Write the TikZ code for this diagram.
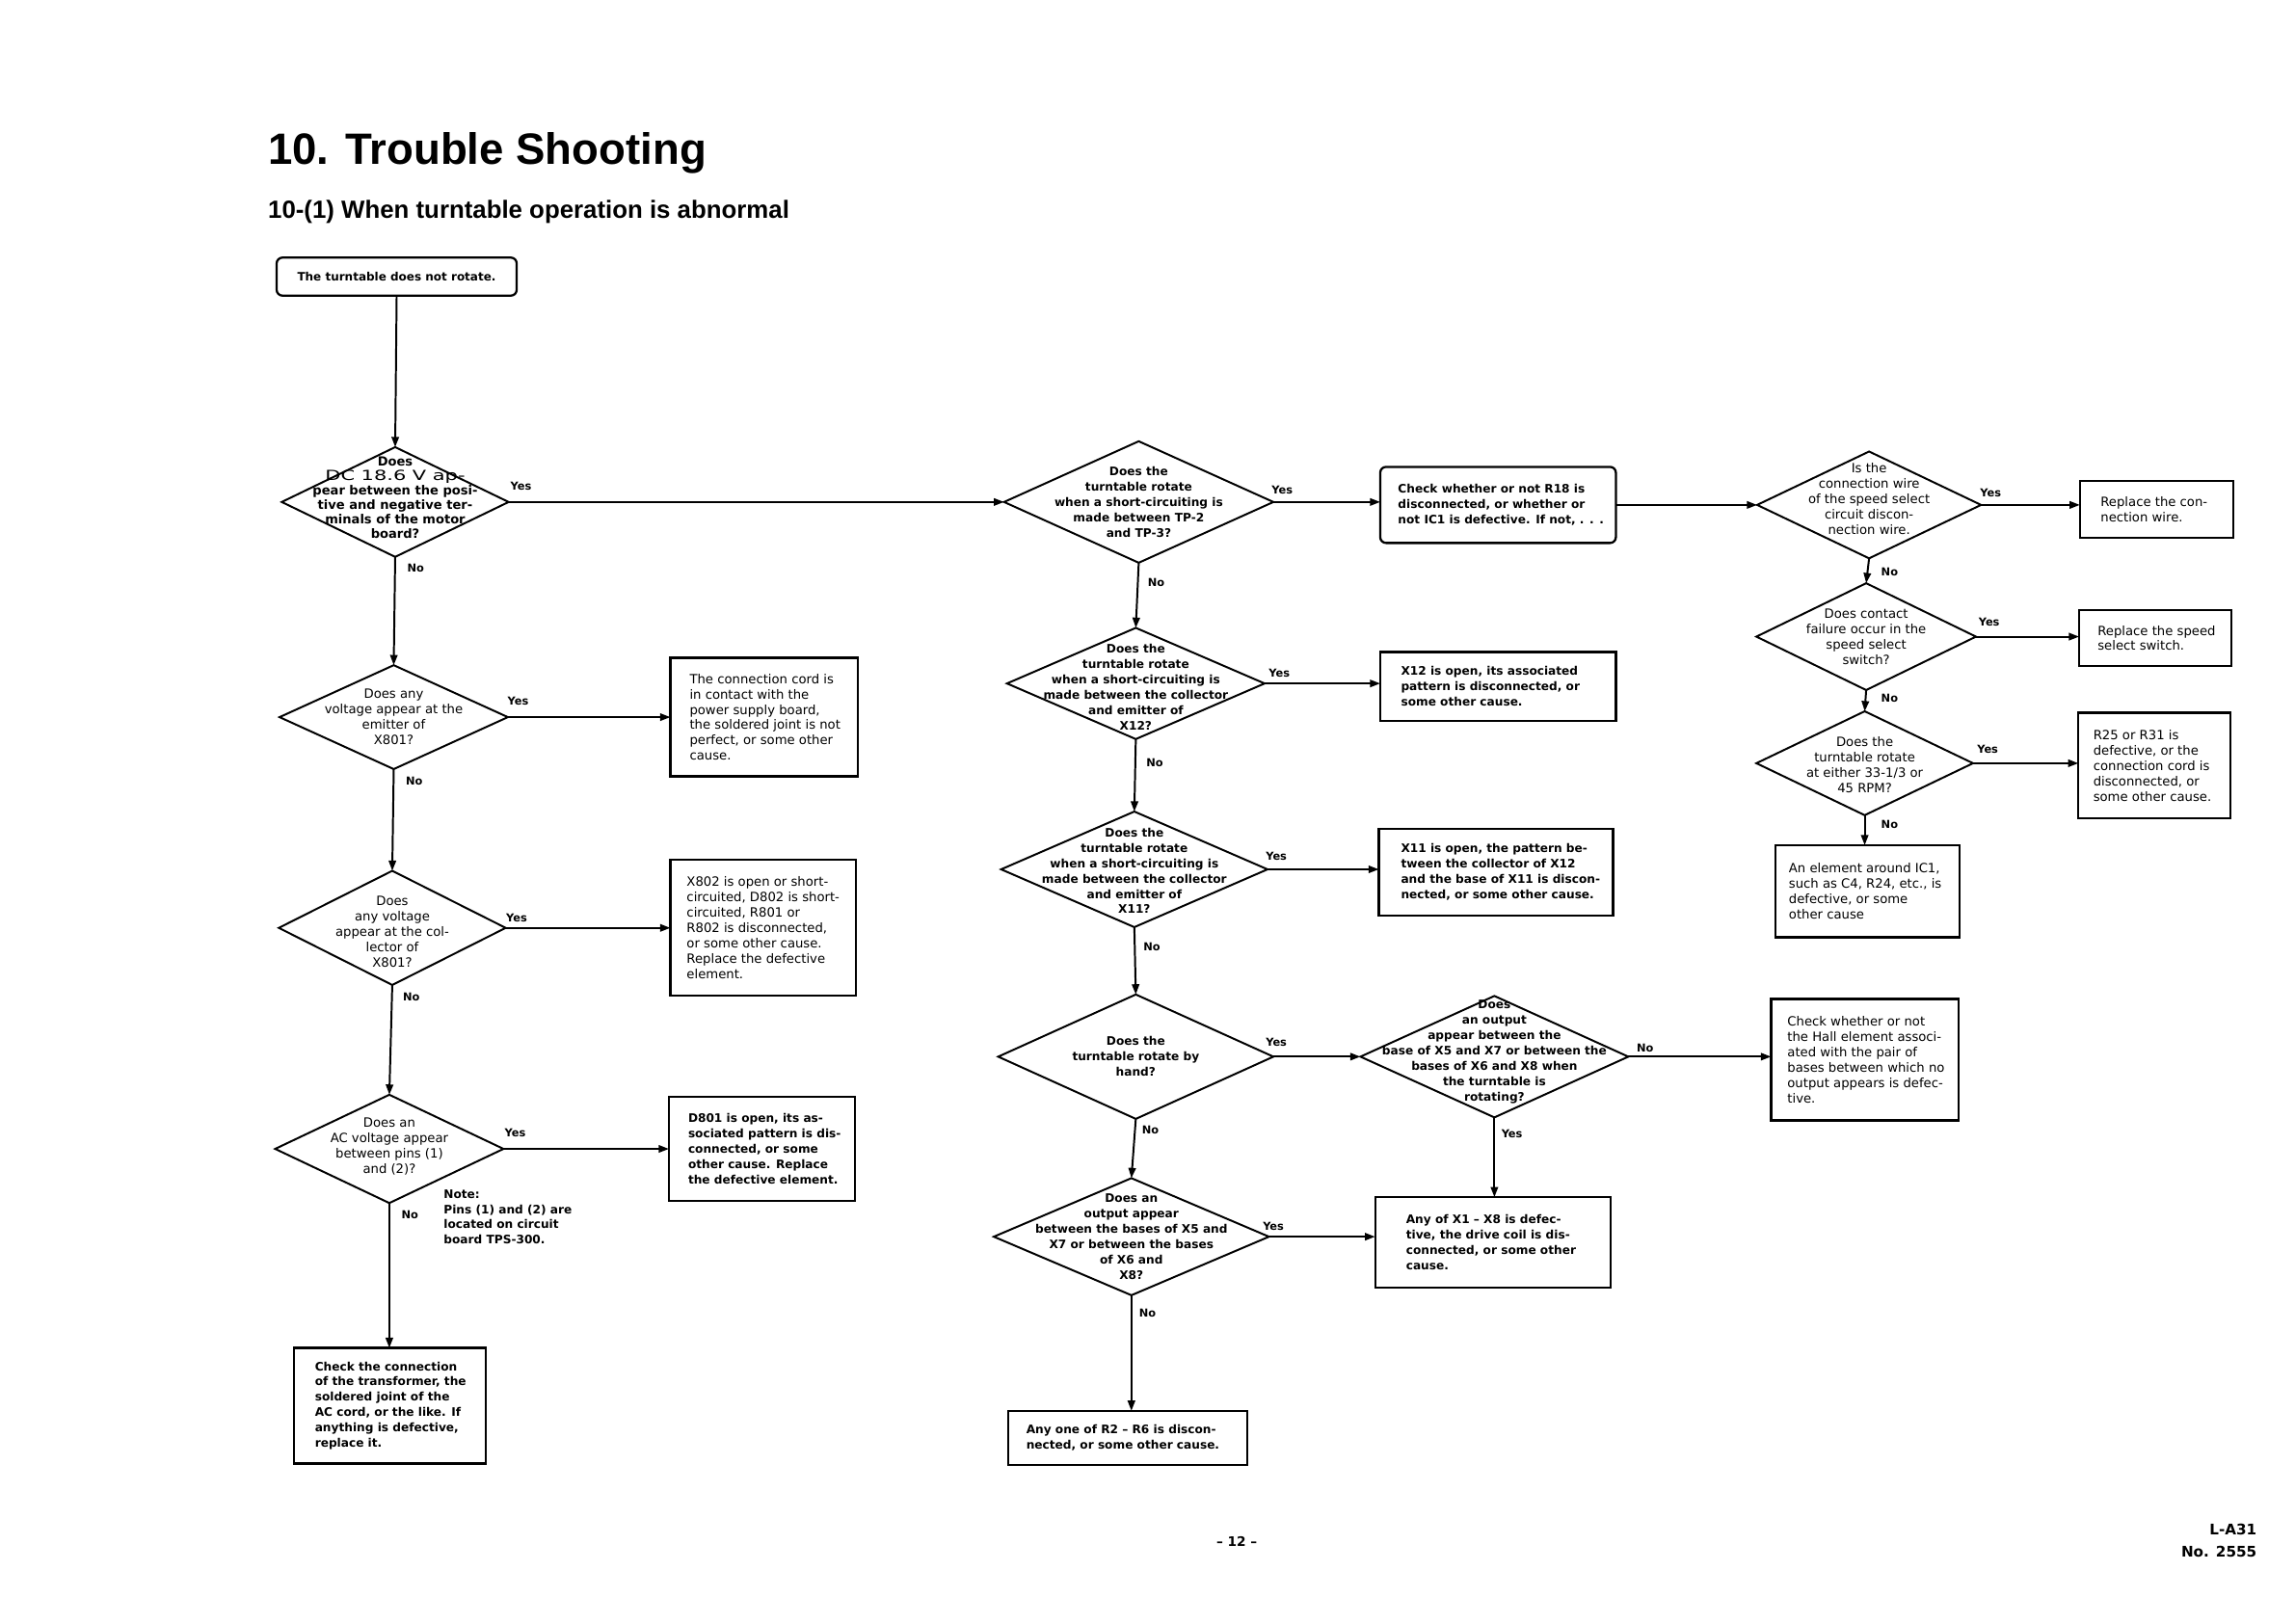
\documentclass[tikz,border=0pt]{standalone}
\usepackage{graphicx}
\usepackage{fontspec}
\setmainfont{DejaVu Sans}
\newfontfamily\headfont{Liberation Sans}
\usetikzlibrary{shapes.geometric,arrows.meta}
\newcommand\tightlines{\lineskiplimit=-20pt\relax}
\newcommand\fntreg{\fontsize{8.7}{10.5}\selectfont\tightlines}
\newcommand\fntbold{\bfseries\fontsize{8}{10.5}\selectfont\tightlines}
\tikzset{
  conn/.style={line width=1.3pt, -{Triangle[length=7pt,width=5pt]}},
  dia/.style={draw, diamond, line width=1.3pt, inner sep=0pt, outer sep=0pt},
  box/.style={draw, rectangle, line width=1.5pt, inner sep=0pt, outer sep=0pt},
  rbox/.style={box, rounded corners=4pt},
  txr/.style={align=center, inner sep=0pt, font=\fntreg},
  txb/.style={align=center, inner sep=0pt, font=\fntbold},
  btr/.style={align=left, inner sep=0pt, anchor=west, font=\fntreg},
  btb/.style={align=left, inner sep=0pt, anchor=west, font=\fntbold},
  lbl/.style={inner sep=0pt, font=\bfseries\fontsize{7.5}{9}\selectfont},
}
\newcommand\fntdone{\bfseries\fontsize{8.6}{10}\selectfont\tightlines}
\newcommand\dcline{{\mdseries\fontsize{9.5}{10}\selectfont\scalebox{1.45}[1]{DC 18.6 V ap-}}}
\begin{document}
\begin{tikzpicture}[x=1pt,y=-1pt]
\useasboundingbox (0,0) rectangle (1568,1109);
\fill[white] (0,0) rectangle (1568,1109);

% titles
\node[anchor=base west, inner sep=0pt, font=\headfont\bfseries\fontsize{30}{30}\selectfont] (title) at (183,112) {10. Trouble Shooting};
\node[anchor=base west, inner sep=0pt, font=\headfont\bfseries\fontsize{17}{17}\selectfont] (sub) at (183,149) {10-(1) When turntable operation is abnormal};

% ---------- column 1 ----------
\node[rbox, minimum width=164pt, minimum height=26pt, font=\bfseries\fontsize{7.9}{9}\selectfont] (start) at (271,189) {The turntable does not rotate.};

\node[dia, minimum width=155pt, minimum height=75pt] (d1) at (270,343) {};
\node[txb, yshift=3pt, font=\fntdone] (d1t) at (d1) {Does\\ \dcline\\ pear between the posi-\\ tive and negative ter-\\ minals of the motor\\ board?};

\node[dia, minimum width=156pt, minimum height=71pt] (d2) at (269,490) {};
\node[txr] (d2t) at (d2) {Does any\\ voltage appear at the\\ emitter of\\ X801?};

\node[dia, minimum width=155pt, minimum height=78pt] (d3) at (268,634) {};
\node[txr, yshift=-2.5pt] (d3t) at (d3) {Does\\ any voltage\\ appear at the col-\\ lector of\\ X801?};

\node[dia, minimum width=156pt, minimum height=74pt] (d4) at (266,785) {};
\node[txr, yshift=1.5pt] (d4t) at (d4) {Does an\\ AC voltage appear\\ between pins (1)\\ and (2)?};

\node[box, minimum width=128pt, minimum height=81pt] (b1) at (522,490) {};
\node[btr] (b1t) at ([xshift=13pt]b1.west) {The connection cord is\\ in contact with the\\ power supply board,\\ the soldered joint is not\\ perfect, or some other\\ cause.};

\node[box, minimum width=127pt, minimum height=93pt] (b2) at (521.5,634) {};
\node[btr] (b2t) at ([xshift=11pt]b2.west) {X802 is open or short-\\ circuited, D802 is short-\\ circuited, R801 or\\ R802 is disconnected,\\ or some other cause.\\ Replace the defective\\ element.};

\node[box, minimum width=127pt, minimum height=71pt] (b3) at (520.5,785) {};
\node[btb] (b3t) at ([xshift=13pt]b3.west) {D801 is open, its as-\\ sociated pattern is dis-\\ connected, or some\\ other cause. Replace\\ the defective element.};

\node[btb] (note) at (303,831.5) {Note:\\ Pins (1) and (2) are\\ located on circuit\\ board TPS-300.};

\node[box, minimum width=131pt, minimum height=79pt] (b4) at (266.5,960.5) {};
\node[btb] (b4t) at ([xshift=14pt]b4.west) {Check the connection\\ of the transformer, the\\ soldered joint of the\\ AC cord, or the like. If\\ anything is defective,\\ replace it.};

% ---------- column 2 ----------
\node[dia, minimum width=184pt, minimum height=83pt] (e1) at (778,343) {};
\node[txb] (e1t) at (e1) {Does the\\ turntable rotate\\ when a short-circuiting is\\ made between TP-2\\ and TP-3?};

\node[rbox, minimum width=161pt, minimum height=52pt] (c1) at (1023.5,345) {};
\node[btb] (c1t) at ([xshift=12pt]c1.west) {Check whether or not R18 is\\ disconnected, or whether or\\ not IC1 is defective. If not, . . .};

\node[dia, minimum width=176pt, minimum height=76pt] (e2) at (776,467) {};
\node[txb, yshift=-2.5pt] (e2t) at (e2) {Does the\\ turntable rotate\\ when a short-circuiting is\\ made between the collector\\ and emitter of\\ X12?};

\node[box, minimum width=161pt, minimum height=47pt] (c2) at (1023.5,469) {};
\node[btb] (c2t) at ([xshift=14pt]c2.west) {X12 is open, its associated\\ pattern is disconnected, or\\ some other cause.};

\node[dia, minimum width=182pt, minimum height=79pt] (e3) at (775,594) {};
\node[txb, yshift=-1pt] (e3t) at (e3) {Does the\\ turntable rotate\\ when a short-circuiting is\\ made between the collector\\ and emitter of\\ X11?};

\node[box, minimum width=160pt, minimum height=59pt] (c3) at (1022,596) {};
\node[btb] (c3t) at ([xshift=15pt]c3.west) {X11 is open, the pattern be-\\ tween the collector of X12\\ and the base of X11 is discon-\\ nected, or some other cause.};

\node[dia, minimum width=188pt, minimum height=85pt] (e4) at (776,722) {};
\node[txb] (e4t) at (e4) {Does the\\ turntable rotate by\\ hand?};

\node[dia, minimum width=188pt, minimum height=80pt] (e5) at (773,845) {};
\node[txb] (e5t) at (e5) {Does an\\ output appear\\ between the bases of X5 and\\ X7 or between the bases\\ of X6 and\\ X8?};

\node[box, minimum width=161pt, minimum height=62pt] (c5) at (1020,849) {};
\node[btb] (c5t) at ([xshift=21pt]c5.west) {Any of X1 -- X8 is defec-\\ tive, the drive coil is dis-\\ connected, or some other\\ cause.};

\node[box, minimum width=163pt, minimum height=37pt] (c6) at (770.5,982.5) {};
\node[btb] (c6t) at ([xshift=12pt]c6.west) {Any one of R2 -- R6 is discon-\\ nected, or some other cause.};

% ---------- column 3 ----------
\node[dia, minimum width=183pt, minimum height=83pt] (f5) at (1021,722) {};
\node[txb, yshift=3.5pt] (f5t) at (f5) {Does\\ an output\\ appear between the\\ base of X5 and X7 or between the\\ bases of X6 and X8 when\\ the turntable is\\ rotating?};

\node[box, minimum width=128pt, minimum height=83pt] (g) at (1274,724) {};
\node[btr] (gt) at ([xshift=11pt]g.west) {Check whether or not\\ the Hall element associ-\\ ated with the pair of\\ bases between which no\\ output appears is defec-\\ tive.};

% ---------- column 4 ----------
\node[dia, minimum width=153pt, minimum height=73pt] (f1) at (1277,345) {};
\node[txr, yshift=4pt] (f1t) at (f1) {Is the\\ connection wire\\ of the speed select\\ circuit discon-\\ nection wire.};

\node[box, minimum width=105pt, minimum height=39pt] (h1) at (1473.5,348) {};
\node[btr] (h1t) at ([xshift=14pt]h1.west) {Replace the con-\\ nection wire.};

\node[dia, minimum width=150pt, minimum height=73pt] (f2) at (1275,435) {};
\node[txr] (f2t) at (f2) {Does contact\\ failure occur in the\\ speed select\\ switch?};

\node[box, minimum width=104pt, minimum height=38pt] (h2) at (1472.5,436) {};
\node[btr] (h2t) at ([xshift=12.5pt]h2.west) {Replace the speed\\ select switch.};

\node[dia, minimum width=148pt, minimum height=71pt] (f3) at (1274,521.5) {};
\node[txr, yshift=-1pt] (f3t) at (f3) {Does the\\ turntable rotate\\ at either 33-1/3 or\\ 45 RPM?};

\node[box, minimum width=104pt, minimum height=72pt] (h3) at (1472,523) {};
\node[btr] (h3t) at ([xshift=10pt]h3.west) {R25 or R31 is\\ defective, or the\\ connection cord is\\ disconnected, or\\ some other cause.};

\node[box, minimum width=126pt, minimum height=63pt] (h4) at (1276,609) {};
\node[btr] (h4t) at ([xshift=9pt]h4.west) {An element around IC1,\\ such as C4, R24, etc., is\\ defective, or some\\ other cause};

% ---------- connectors ----------
\draw[conn] (start.south) -- (d1.north);
\draw[conn] (d1.east) -- (e1.west);
\draw[conn] (d1.south) -- (d2.north);
\draw[conn] (d2.east) -- (d2.east -| b1.west);
\draw[conn] (d2.south) -- (d3.north);
\draw[conn] (d3.east) -- (d3.east -| b2.west);
\draw[conn] (d3.south) -- (d4.north);
\draw[conn] (d4.east) -- (d4.east -| b3.west);
\draw[conn] (d4.south) -- (d4.south |- b4.north);

\draw[conn] (e1.east) -- (e1.east -| c1.west);
\draw[conn] (c1.east) -- (f1.west);
\draw[conn] (e1.south) -- (e2.north);
\draw[conn] (e2.east) -- (e2.east -| c2.west);
\draw[conn] (e2.south) -- (e3.north);
\draw[conn] (e3.east) -- (e3.east -| c3.west);
\draw[conn] (e3.south) -- (e4.north);
\draw[conn] (e4.east) -- (f5.west);
\draw[conn] (e4.south) -- (e5.north);
\draw[conn] (e5.east) -- (e5.east -| c5.west);
\draw[conn] (e5.south) -- (e5.south |- c6.north);
\draw[conn] (f5.east) -- (f5.east -| g.west);
\draw[conn] (f5.south) -- (f5.south |- c5.north);

\draw[conn] (f1.east) -- (f1.east -| h1.west);
\draw[conn] (f1.south) -- (f2.north);
\draw[conn] (f2.east) -- (f2.east -| h2.west);
\draw[conn] (f2.south) -- (f3.north);
\draw[conn] (f3.east) -- (f3.east -| h3.west);
\draw[conn] (f3.south) -- (f3.south |- h4.north);

% ---------- labels ----------
\node[lbl] (l1y) at (356,332) {Yes};
\node[lbl] (l1n) at (284,388) {No};
\node[lbl] (l2y) at (354,479) {Yes};
\node[lbl] (l2n) at (283,534) {No};
\node[lbl] (l3y) at (353,627) {Yes};
\node[lbl] (l3n) at (281,681) {No};
\node[lbl] (l4y) at (352,774) {Yes};
\node[lbl] (l4n) at (280,830) {No};
\node[lbl] (m1y) at (876,335) {Yes};
\node[lbl] (m1n) at (790,398) {No};
\node[lbl] (m2y) at (874,460) {Yes};
\node[lbl] (m2n) at (789,521) {No};
\node[lbl] (m3y) at (872,585) {Yes};
\node[lbl] (m3n) at (787,647) {No};
\node[lbl] (m4y) at (872,712) {Yes};
\node[lbl] (m4n) at (786,772) {No};
\node[lbl] (m5y) at (870,838) {Yes};
\node[lbl] (m5n) at (784,897) {No};
\node[lbl] (p5n) at (1124,716) {No};
\node[lbl] (p5y) at (1033,775) {Yes};
\node[lbl] (r1y) at (1360,337) {Yes};
\node[lbl] (r1n) at (1291,391) {No};
\node[lbl] (r2y) at (1359,425) {Yes};
\node[lbl] (r2n) at (1291,477) {No};
\node[lbl] (r3y) at (1358,512) {Yes};
\node[lbl] (r3n) at (1291,563) {No};

% ---------- footer ----------
\node[inner sep=0pt, font=\bfseries\fontsize{9}{10}\selectfont] (page) at (845,1053) {-- 12 --};
\node[anchor=east, inner sep=0pt, font=\bfseries\fontsize{10}{11}\selectfont] (doc1) at (1542,1045) {L-A31};
\node[anchor=east, inner sep=0pt, font=\bfseries\fontsize{10}{11}\selectfont] (doc2) at (1542,1060) {No. 2555};
\end{tikzpicture}
\end{document}
